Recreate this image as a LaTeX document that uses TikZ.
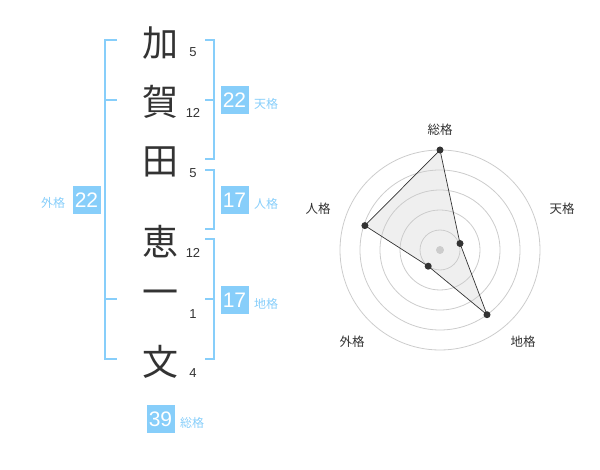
\documentclass[tikz,border=0pt]{standalone}
\usepackage{fontspec}
\setmainfont{Liberation Sans}
\newfontfamily\jpfont{Noto Sans CJK JP}
\definecolor{kakuBlue}{HTML}{87CEFA}
\definecolor{inkGray}{HTML}{333333}
\begin{document}
\begin{tikzpicture}[x=1pt, y=-1pt,
    charStyle/.style={text=inkGray, font=\jpfont\fontsize{36}{36}\selectfont, inner sep=0pt},
    strokeStyle/.style={text=inkGray, font=\fontsize{13}{13}\selectfont, inner sep=0pt},
    boxStyle/.style={fill=kakuBlue, text=white, minimum size=28pt, inner sep=0pt, font=\fontsize{21}{21}\selectfont},
    kakuStyle/.style={text=kakuBlue, font=\jpfont\fontsize{12}{12}\selectfont, inner sep=0pt},
    bracketStyle/.style={draw=kakuBlue, line width=2pt},
    ringStyle/.style={draw=black!20, line width=0.8pt},
    dotStyle/.style={circle, fill=inkGray, minimum size=7pt, inner sep=0pt},
    axisStyle/.style={text=inkGray, font=\jpfont\fontsize{12.5}{12.5}\selectfont, inner sep=0pt}]
    \useasboundingbox (0,0) rectangle (600,470);

    % name characters and stroke counts
    \node[charStyle](c1) at (160,43) {加};
    \node[charStyle](c2) at (160,102) {賀};
    \node[charStyle](c3) at (160,162) {田};
    \node[charStyle](c4) at (160,242) {恵};
    \node[charStyle](c5) at (160,298) {一};
    \node[charStyle](c6) at (160,362) {文};
    \node[strokeStyle](s1) at (193,52) {5};
    \node[strokeStyle](s2) at (193,113) {12};
    \node[strokeStyle](s3) at (193,173) {5};
    \node[strokeStyle](s4) at (193,253) {12};
    \node[strokeStyle](s5) at (193,314) {1};
    \node[strokeStyle](s6) at (193,373) {4};

    % brackets
    \draw[bracketStyle] (117,40) -- (105,40) -- (105,359) -- (117,359);
    \draw[bracketStyle] (105,100) -- (117,100);
    \draw[bracketStyle] (105,299) -- (117,299);
    \draw[bracketStyle] (205,40) -- (214,40) -- (214,159) -- (205,159);
    \draw[bracketStyle] (214,100) -- (205,100);
    \draw[bracketStyle] (205,170) -- (214,170) -- (214,229) -- (205,229);
    \draw[bracketStyle] (205,239) -- (214,239) -- (214,359) -- (205,359);
    \draw[bracketStyle] (214,299) -- (205,299);

    % scores
    \node[boxStyle](gai) at (86.5,200) {22};
    \node[kakuStyle](gaiL) at (53,203) {外格};
    \node[boxStyle](ten) at (234.5,100.5) {22};
    \node[kakuStyle](tenL) at (266,104) {天格};
    \node[boxStyle](jin) at (234.5,200) {17};
    \node[kakuStyle](jinL) at (266,204) {人格};
    \node[boxStyle](chi) at (234.5,300) {17};
    \node[kakuStyle](chiL) at (266,304) {地格};
    \node[boxStyle](sou) at (160.5,419) {39};
    \node[kakuStyle](souL) at (192,422.5) {総格};

    % radar chart
    \coordinate (ctr) at (440,250);
    \coordinate (pSou) at (440,150);
    \coordinate (pTen) at (460,243.5);
    \coordinate (pChi) at (487,314.7);
    \coordinate (pGai) at (428.2,266.2);
    \coordinate (pJin) at (364.9,225.6);
    \fill[black!12, fill opacity=0.5] (pSou) -- (pTen) -- (pChi) -- (pGai) -- (pJin) -- cycle;
    \draw[ringStyle] (ctr) circle (20);
    \draw[ringStyle] (ctr) circle (40);
    \draw[ringStyle] (ctr) circle (60);
    \draw[ringStyle] (ctr) circle (80);
    \draw[ringStyle] (ctr) circle (100);
    \fill[black!20] (ctr) circle (4);
    \draw[inkGray, line width=0.7pt] (pSou) -- (pTen) -- (pChi) -- (pGai) -- (pJin) -- cycle;
    \node[dotStyle](dSou) at (pSou) {};
    \node[dotStyle](dTen) at (pTen) {};
    \node[dotStyle](dChi) at (pChi) {};
    \node[dotStyle](dGai) at (pGai) {};
    \node[dotStyle](dJin) at (pJin) {};
    \node[axisStyle](aSou) at (440,130) {総格};
    \node[axisStyle](aTen) at (562,209) {天格};
    \node[axisStyle](aChi) at (523,342) {地格};
    \node[axisStyle](aGai) at (352,342) {外格};
    \node[axisStyle](aJin) at (318,209) {人格};
\end{tikzpicture}
\end{document}
